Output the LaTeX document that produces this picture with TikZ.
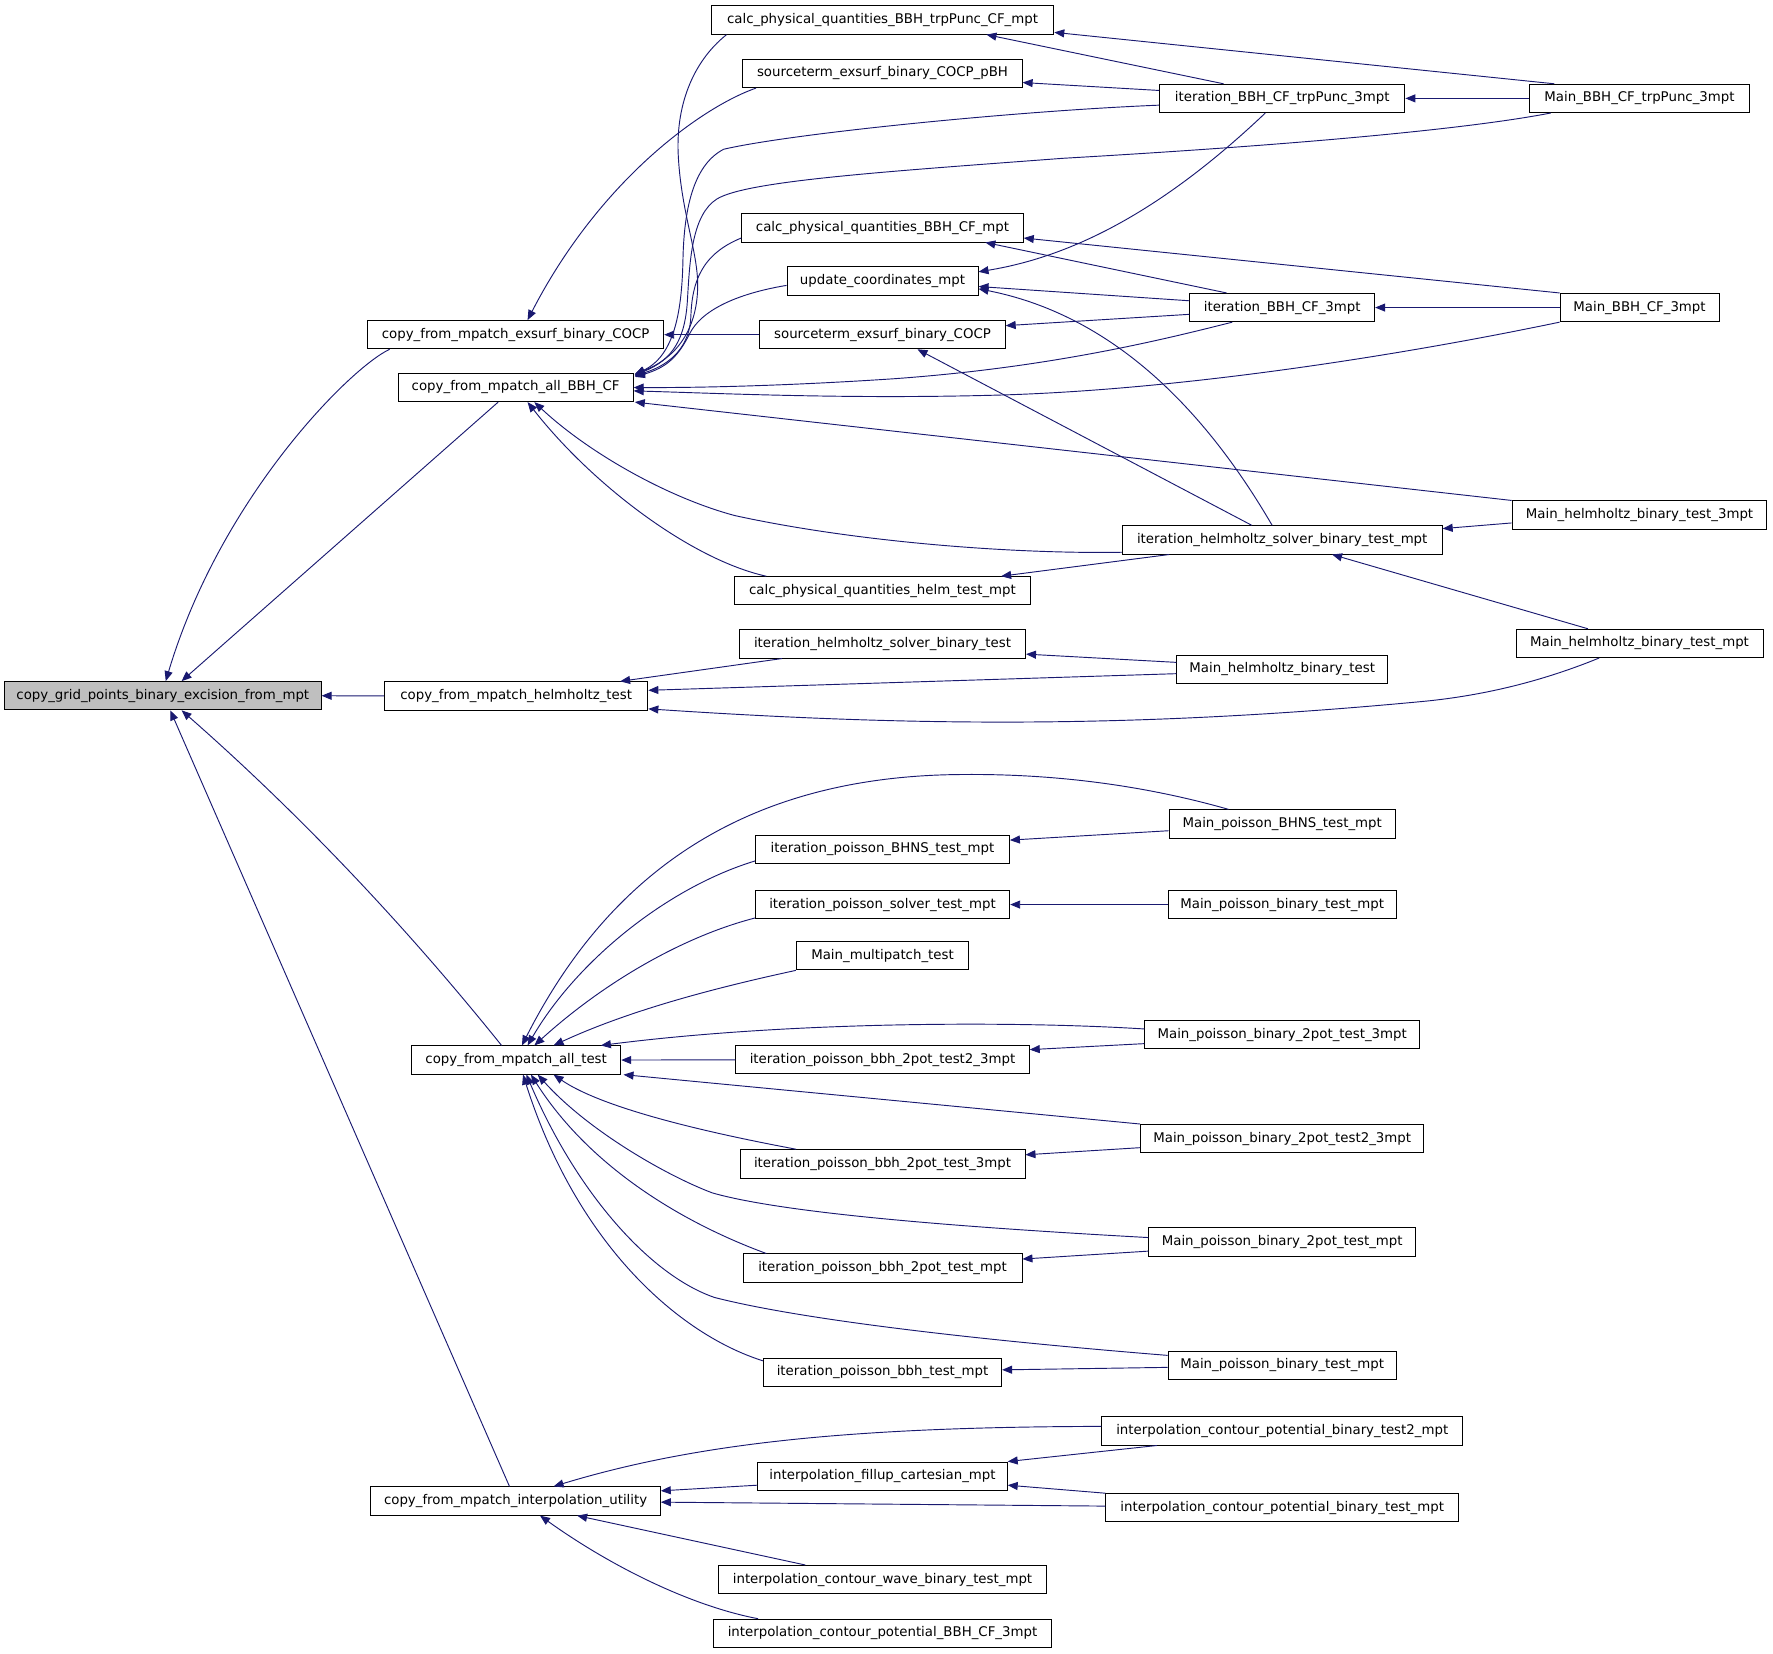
\documentclass[tikz,border=0pt]{standalone}
\usepackage{fontspec}
\setmainfont{DejaVu Sans}
\usetikzlibrary{arrows.meta,calc}
\definecolor{edgeblue}{RGB}{25,25,112}
\definecolor{hlgray}{RGB}{191,191,191}
\begin{document}
\begin{tikzpicture}[x=0.848pt,y=-0.848pt,
  fn/.style={draw=black,line width=0.7pt,fill=white,minimum height=21.2pt,inner sep=0pt,
    font=\fontsize{10}{12}\selectfont,anchor=center},
  bw/.style={minimum width=#1*0.848pt},
  edge/.style={draw=edgeblue,line width=0.7pt,-{Triangle[length=7.5pt,width=6pt]}}]
\useasboundingbox (0,0) rectangle (1568.06,1461.93);
% column 0/1
\node[fn,bw=280,fill=hlgray] (N0) at (144,615.3) {copy\_grid\_points\_binary\_excision\_from\_mpt};
\node[fn,bw=262] (A) at (456,296) {copy\_from\_mpatch\_exsurf\_binary\_COCP};
\node[fn,bw=208] (B) at (456,342.7) {copy\_from\_mpatch\_all\_BBH\_CF};
\node[fn,bw=233] (C) at (456.5,615.5) {copy\_from\_mpatch\_helmholtz\_test};
\node[fn,bw=185] (D) at (456.5,937.5) {copy\_from\_mpatch\_all\_test};
\node[fn,bw=256] (E) at (456,1327.5) {copy\_from\_mpatch\_interpolation\_utility};
% column 2
\node[fn,bw=303] (F) at (780.5,17.7) {calc\_physical\_quantities\_BBH\_trpPunc\_CF\_mpt};
\node[fn,bw=247] (G) at (780.5,65) {sourceterm\_exsurf\_binary\_COCP\_pBH};
\node[fn,bw=249] (H) at (780.5,201.5) {calc\_physical\_quantities\_BBH\_CF\_mpt};
\node[fn,bw=169] (I) at (780.5,248.4) {update\_coordinates\_mpt};
\node[fn,bw=217] (J) at (780.5,296) {sourceterm\_exsurf\_binary\_COCP};
\node[fn,bw=261] (K) at (780.5,522.5) {calc\_physical\_quantities\_helm\_test\_mpt};
\node[fn,bw=253] (L) at (780.5,569.5) {iteration\_helmholtz\_solver\_binary\_test};
\node[fn,bw=224.5] (M) at (780.5,751) {iteration\_poisson\_BHNS\_test\_mpt};
\node[fn,bw=225] (N) at (780.5,800) {iteration\_poisson\_solver\_test\_mpt};
\node[fn,bw=152.5] (O) at (780.5,845.3) {Main\_multipatch\_test};
\node[fn,bw=259.6] (P) at (780.5,937.3) {iteration\_poisson\_bbh\_2pot\_test2\_3mpt};
\node[fn,bw=252] (Q) at (780.5,1029.3) {iteration\_poisson\_bbh\_2pot\_test\_3mpt};
\node[fn,bw=246.7] (R) at (780.5,1121.5) {iteration\_poisson\_bbh\_2pot\_test\_mpt};
\node[fn,bw=210.7] (S) at (780.5,1213.5) {iteration\_poisson\_bbh\_test\_mpt};
\node[fn,bw=220.6] (T) at (780.5,1305.5) {interpolation\_fillup\_cartesian\_mpt};
\node[fn,bw=289.7] (U) at (780.5,1397) {interpolation\_contour\_wave\_binary\_test\_mpt};
\node[fn,bw=299.4] (V) at (780.5,1444.5) {interpolation\_contour\_potential\_BBH\_CF\_3mpt};
% column 3
\node[fn,bw=217] (W) at (1134,87) {iteration\_BBH\_CF\_trpPunc\_3mpt};
\node[fn,bw=163.5] (X) at (1134,272) {iteration\_BBH\_CF\_3mpt};
\node[fn,bw=283] (Y) at (1134,477.5) {iteration\_helmholtz\_solver\_binary\_test\_mpt};
\node[fn,bw=186.3] (Z) at (1134,591.8) {Main\_helmholtz\_binary\_test};
\node[fn,bw=200.2] (MPB) at (1134,728.7) {Main\_poisson\_BHNS\_test\_mpt};
\node[fn,bw=201.6] (MPTa) at (1134,800) {Main\_poisson\_binary\_test\_mpt};
\node[fn,bw=243.2] (MPTc) at (1134,915) {Main\_poisson\_binary\_2pot\_test\_3mpt};
\node[fn,bw=250.4] (MPTd) at (1134,1007) {Main\_poisson\_binary\_2pot\_test2\_3mpt};
\node[fn,bw=236] (MPTe) at (1134,1098.5) {Main\_poisson\_binary\_2pot\_test\_mpt};
\node[fn,bw=202] (MPTb) at (1134,1207.3) {Main\_poisson\_binary\_test\_mpt};
\node[fn,bw=319] (ICb) at (1134,1265.5) {interpolation\_contour\_potential\_binary\_test2\_mpt};
\node[fn,bw=312] (ICa) at (1134,1333.5) {interpolation\_contour\_potential\_binary\_test\_mpt};
% column 4
\node[fn,bw=194] (MT) at (1450,87) {Main\_BBH\_CF\_trpPunc\_3mpt};
\node[fn,bw=140.6] (M3) at (1450,272) {Main\_BBH\_CF\_3mpt};
\node[fn,bw=225.4] (MH3) at (1450,455.5) {Main\_helmholtz\_binary\_test\_3mpt};
\node[fn,bw=218.4] (MHM) at (1450,569) {Main\_helmholtz\_binary\_test\_mpt};

% edges into N0
\draw[edge] ($(A.south west)+(20,0)$) .. controls (310,325) and (195,440) .. ($(N0.north west)+(143,0)$);
\draw[edge] ($(B.south west)+(89,0)$) -- ($(N0.north west)+(157,0)$);
\draw[edge] (C.west) -- (N0.east);
\draw[edge] ($(D.north west)+(80,0)$) .. controls (358,818) and (264,719) .. ($(N0.south west)+(157,0)$);
\draw[edge] ($(E.north west)+(123,0)$) -- ($(N0.south west)+(147,0)$);
% edges into A
\draw[edge] ($(G.south west)+(12,0)$) .. controls (620,95) and (530,160) .. ($(A.north west)+(142,0)$);
\draw[edge] (J.west) -- (A.east);
% edges into B
\draw[edge] ($(F.south west)+(14,0)$) .. controls (612,55) and (597,95) .. (600,140) .. controls (603,190) and (618,225) .. (617,255) .. controls (616,295) and (595,318) .. ($(B.north east)+(1,1)$);
\draw[edge] ($(W.west)+(0,6)$) .. controls (900,98) and (700,118) .. (640,132) .. controls (615,145) and (605,180) .. (604,230) .. controls (603,280) and (595,315) .. ($(B.north east)+(1,1.5)$);
\draw[edge] ($(MT.south west)+(19,0)$) .. controls (1320,110) and (1200,125) .. (940,140) .. controls (780,152) and (660,160) .. (634,176) .. controls (612,190) and (610,230) .. (608,265) .. controls (606,300) and (595,318) .. ($(B.north east)+(1,2)$);
\draw[edge] ($(H.west)+(0,9)$) .. controls (620,225) and (612,250) .. (611,280) .. controls (610,305) and (595,322) .. ($(B.north east)+(1,2.5)$);
\draw[edge] ($(I.west)+(0,4)$) .. controls (650,260) and (620,275) .. (610,295) .. controls (600,315) and (590,325) .. ($(B.north east)+(1,3.5)$);
\draw[edge] ($(X.south west)+(38,0)$) .. controls (1030,300) and (930,325) .. (790,335) .. controls (700,341) and (620,343) .. (B.east);
\draw[edge] (M3.south west) .. controls (1250,312) and (1050,345) .. (880,349.5) .. controls (750,353) and (640,348) .. ($(B.east)+(0,3)$);
\draw[edge] (MH3.north west) -- ($(B.south east)+(1,0)$);
\draw[edge] ($(Y.south west)+(0,-2)$) .. controls (900,490) and (760,480) .. (650,456) .. controls (590,440) and (520,400) .. ($(B.south west)+(121,0)$);
\draw[edge] ($(K.north west)+(28,0)$) .. controls (612,495) and (525,430) .. ($(B.south west)+(115,0)$);
% column 3 -> column 2
\draw[edge] ($(W.north west)+(57,0)$) -- ($(F.south east)+(-60,0)$);
\draw[edge] ($(MT.north west)+(22,0)$) -- ($(F.south east)+(0,-2)$);
\draw[edge] ($(W.west)+(0,-7)$) -- ($(G.east)+(0,8)$);
\draw[edge] (MT.west) -- (W.east);
\draw[edge] ($(W.south west)+(94,0)$) .. controls (1040,175) and (960,225) .. ($(I.east)+(0,-8)$);
\draw[edge] ($(X.north west)+(33,0)$) -- ($(H.south east)+(-34,0)$);
\draw[edge] (M3.north west) -- ($(H.east)+(0,9)$);
\draw[edge] ($(X.west)+(0,-6)$) -- ($(I.east)+(0,5)$);
\draw[edge] ($(X.west)+(0,6)$) -- ($(J.east)+(0,-8)$);
\draw[edge] (M3.west) -- (X.east);
\draw[edge] ($(Y.north west)+(133,0)$) .. controls (1070,370) and (990,280) .. ($(I.east)+(0,7)$);
\draw[edge] ($(Y.north west)+(115,0)$) -- ($(J.south east)+(-78,0)$);
\draw[edge] ($(MH3.west)+(0,7)$) -- ($(Y.east)+(0,-10)$);
\draw[edge] ($(MHM.north west)+(64,0)$) -- ($(Y.south west)+(186,0)$);
\draw[edge] ($(Y.south west)+(42,0)$) -- ($(K.north east)+(-26,0)$);
\draw[edge] ($(Z.west)+(0,-6)$) -- ($(L.east)+(0,9)$);
\draw[edge] ($(Z.west)+(0,4)$) -- ($(C.east)+(0,-5)$);
\draw[edge] ($(L.south west)+(38,0)$) -- ($(C.north east)+(-25,0)$);
\draw[edge] ($(MHM.south west)+(74,0)$) .. controls (1370,600) and (1320,614) .. (1262,620) .. controls (1000,645) and (800,642) .. ($(C.south east)+(0,-1.5)$);
% lower part
\draw[edge] ($(MPB.west)+(0,6)$) -- ($(M.east)+(0,-8)$);
\draw[edge] ($(MPB.north west)+(53,0)$) .. controls (1010,694) and (930,684) .. (848,685) .. controls (640,687) and (530,790) .. ($(D.north west)+(98,0)$);
\draw[edge] ($(M.south west)+(0,-2.5)$) .. controls (590,785) and (510,850) .. ($(D.north west)+(103,0)$);
\draw[edge] (MPTa.west) -- (N.east);
\draw[edge] ($(N.south west)+(0,-1)$) .. controls (605,828) and (535,868) .. ($(D.north west)+(109,0)$);
\draw[edge] (O.south west) .. controls (640,872) and (560,892) .. ($(D.north west)+(126,0)$);
\draw[edge] ($(MPTc.west)+(0,8)$) -- ($(P.east)+(0,-9)$);
\draw[edge] ($(MPTc.west)+(0,-5)$) .. controls (900,903) and (700,903) .. ($(D.north east)+(-18,0)$);
\draw[edge] (P.west) -- (D.east);
\draw[edge] ($(MPTd.west)+(0,8)$) -- ($(Q.east)+(0,-8)$);
\draw[edge] (MPTd.north west) -- ($(D.south east)+(2,0)$);
\draw[edge] ($(Q.north west)+(50,0)$) .. controls (660,1008) and (540,985) .. ($(D.south west)+(126,0)$);
\draw[edge] ($(MPTe.west)+(0,8)$) -- ($(R.east)+(0,-8)$);
\draw[edge] ($(MPTe.west)+(0,-4)$) .. controls (880,1087) and (700,1075) .. (630,1055) .. controls (590,1040) and (520,1000) .. ($(D.south west)+(112,0)$);
\draw[edge] ($(R.north west)+(21,0)$) .. controls (600,1080) and (520,1030) .. ($(D.south west)+(106,0)$);
\draw[edge] ($(MPTb.west)+(0,2)$) -- ($(S.east)+(0,-2)$);
\draw[edge] ($(MPTb.west)+(0,-8.6)$) .. controls (900,1188) and (720,1170) .. (632,1147.5) .. controls (575,1128) and (510,1055) .. ($(D.south west)+(102,0)$);
\draw[edge] ($(S.west)+(0,-10)$) .. controls (600,1180) and (510,1100) .. ($(D.south west)+(99,0)$);
% interpolation
\draw[edge] ($(ICb.south west)+(49,0)$) -- (T.north east);
\draw[edge] ($(ICb.west)+(0,-4)$) .. controls (760,1262) and (620,1275) .. ($(E.north west)+(162,0)$);
\draw[edge] ($(T.west)+(0,8)$) -- ($(E.east)+(0,-9)$);
\draw[edge] (ICa.north west) -- ($(T.east)+(0,8)$);
\draw[edge] ($(ICa.west)+(0,-1.5)$) -- ($(E.east)+(0,1)$);
\draw[edge] ($(U.north west)+(77,0)$) -- ($(E.south east)+(-74,0)$);
\draw[edge] ($(V.north west)+(40,0)$) .. controls (610,1420) and (540,1385) .. ($(E.south west)+(150,0)$);
\end{tikzpicture}
\end{document}
